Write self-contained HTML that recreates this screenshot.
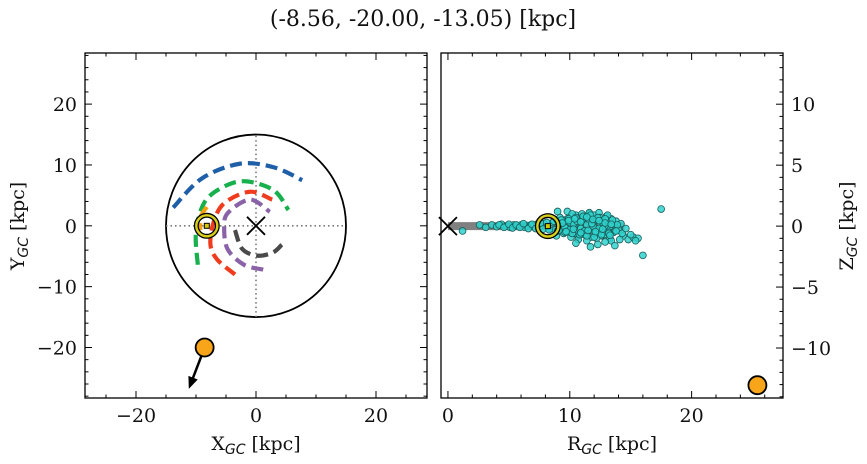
<!DOCTYPE html>
<html><head><meta charset="utf-8">
<style>
html,body{margin:0;padding:0;background:#fff;}
svg{display:block;font-family:"DejaVu Serif","Liberation Serif",serif;}
.t{font-size:19px;fill:#111;}
</style></head>
<body>
<svg id="fig" width="867" height="464" viewBox="0 0 867 464">
<text x="423" y="26" text-anchor="middle" style="font-size:22px" fill="#111">(-8.56, -20.00, -13.05) [kpc]</text>
<g id="L"></g>
<g id="R"></g>
<text x="256" y="450" text-anchor="middle" class="t">X<tspan font-family="DejaVu Sans" font-style="italic" font-size="14" dy="4">GC</tspan><tspan dy="-4"> [kpc]</tspan></text>
<text x="612" y="450" text-anchor="middle" class="t">R<tspan font-family="DejaVu Sans" font-style="italic" font-size="14" dy="4">GC</tspan><tspan dy="-4"> [kpc]</tspan></text>
<text transform="translate(24,226) rotate(-90)" text-anchor="middle" class="t">Y<tspan font-family="DejaVu Sans" font-style="italic" font-size="14" dy="4">GC</tspan><tspan dy="-4"> [kpc]</tspan></text>
<text transform="translate(853,226) rotate(-90)" text-anchor="middle" class="t">Z<tspan font-family="DejaVu Sans" font-style="italic" font-size="14" dy="4">GC</tspan><tspan dy="-4"> [kpc]</tspan></text>
</svg>
<script>
// ---- data ----
const orbitArcColors = ["#1f5fa8","#17b04d","#f03c1e","#8a62a8","#4a4a4a","#f5a00f"];
const orbitArcBlue = [[-13.8,3.0],[-9,7.8],[-2.7,10.2],[3,9.6],[7.7,7.5]];
const orbitArcGreen = [[-9.7,-6.4],[-10,-1],[-8.5,4],[-5,6.6],[-1.5,7.3],[3,5.8],[5.4,2.6]];
const orbitArcRed = [[-3.5,-8],[-6.5,-5.5],[-7.6,-3],[-7,0.8],[-5.2,3.8],[-1,5.6],[2.7,4.3]];
const orbitArcPurple = [[1.2,-7.2],[-2,-6.4],[-4.7,-3.9],[-5.3,-0.5],[-4.7,2.1],[-1,4.3],[2.3,2.3]];
const orbitArcGray = [[-3.5,-0.7],[-2.3,-3.8],[0.2,-4.9],[2.8,-4.4],[4.3,-3.1]];
const orbitArcOrange = [[-8.2,3.1],[-9.2,1.5],[-9.3,-0.7]];
const sunXY = [-8.2, 0];
const targetXY = [-8.56, -20.0];
const arrowEndXY = [-11.2, -26.8];
const targetRZ = [25.4, -13.05];
const sunRZ = [8.2, 0];
const bandR = [0, 14.5];
const starR = [1.2,2.6,3.1,3.6,4.0,4.4,4.8,5.1,5.4,5.7,6.0,6.3,6.5,6.8,7.0,7.3,7.5,7.7,7.9,8.4,8.6,8.8,9.0,9.1,9.3,9.4,9.6,9.7,9.8,9.9,10.0,10.1,10.2,10.3,10.4,10.5,10.6,10.7,10.8,10.9,11.0,11.1,11.2,11.3,11.4,11.5,11.6,11.7,11.8,11.9,12.0,12.1,12.2,12.3,12.4,12.5,12.6,12.7,12.8,12.9,13.0,13.1,13.2,13.3,13.4,13.5,13.6,13.8,14.0,14.2,9.2,9.5,9.8,10.1,10.4,10.7,11.0,11.3,11.6,11.9,12.2,12.5,12.8,13.1,13.4,9.6,10.3,10.9,11.5,12.1,12.7,13.3,13.9,10.0,10.6,11.2,11.8,12.4,13.0,13.6,14.4,14.8,15.2,15.6,16.0,17.5,10.5,11.4,12.3,13.2,9.0,8.9,10.2,11.7,12.9,13.7,14.1,
 4.2,4.6,5.0,5.3,5.6,5.9,6.2,6.6,6.9,7.2,7.6,7.8,8.1,8.3,8.7,9.0,9.3,9.6,9.9,10.2,10.5,10.8,11.1,11.4,11.7,12.0,12.3,12.6,12.9,13.2,13.5,13.8,9.4,9.9,10.4,10.9,11.4,11.9,12.4,12.9,13.4,9.1,9.7,10.3,10.9,11.5,12.1,12.7,13.3,14.3,14.6,15.0,15.4];
const starZ = [-0.4,0.1,-0.1,0.1,-0.05,0.15,0.0,-0.1,0.1,0.0,0.1,-0.1,0.05,0.1,-0.05,0.15,-0.1,0.05,0.2,-0.2,0.3,-0.3,0.4,0.2,-0.4,0.5,0.1,-0.2,0.6,-0.5,0.3,0.8,-0.3,0.5,-0.6,0.9,0.2,-0.8,0.7,-0.1,1.0,0.4,-0.7,0.8,0.1,-0.4,1.0,0.6,-0.9,0.3,0.9,-0.3,0.6,-0.6,1.1,0.2,-0.8,0.5,0.0,-0.5,0.8,-0.2,0.4,-1.0,0.6,0.1,-0.5,0.4,-0.3,0.2,0.7,-0.6,1.2,-0.9,0.3,-1.1,0.5,-0.4,1.1,0.0,-1.0,0.7,-0.7,0.9,-1.2,-0.1,0.2,-0.2,0.6,-0.6,0.3,-0.3,0.1,-0.3,0.4,-0.4,0.2,-0.2,0.5,-0.5,-0.8,-1.1,-0.9,-1.0,-2.4,1.4,-1.4,-1.2,-1.5,-0.5,1.2,-0.8,1.0,-1.7,-1.3,-1.6,-1.1,
 0.1,-0.1,0.15,-0.15,0.1,-0.1,0.2,-0.2,0.15,-0.2,0.25,-0.25,0.3,-0.3,0.4,-0.4,0.5,-0.5,0.6,-0.6,0.7,-0.7,0.8,-0.8,0.9,-0.9,0.7,-0.7,0.6,-0.6,0.5,-0.4,0.25,0.45,0.6,0.35,0.75,0.55,0.45,0.25,0.15,-0.35,-0.45,-0.25,-0.55,-0.35,-0.45,-0.25,-0.75,-0.6,-0.2,-0.7,-1.2];
// ---- axes ----
const NS="http://www.w3.org/2000/svg";
function mk(parent,tag,attrs){const e=document.createElementNS(NS,tag);for(const k in attrs)e.setAttribute(k,attrs[k]);parent.appendChild(e);return e;}
const L={x0:85,x1:427,y0:53,y1:398,xmin:-28.5,xmax:28.5,ymin:-28.3,ymax:28.4};
const R={x0:441,x1:783,y0:53,y1:398,xmin:-0.57,xmax:27.5,ymin:-14.1,ymax:14.2};
function sx(P,v){return P.x0+(v-P.xmin)/(P.xmax-P.xmin)*(P.x1-P.x0);}
function sy(P,v){return P.y1-(v-P.ymin)/(P.ymax-P.ymin)*(P.y1-P.y0);}
function ticks(g,P,xMaj,xMin,yMaj,yMin,ySides,yLabelSide){
  for(let v=Math.ceil(P.xmin/xMin)*xMin;v<=P.xmax;v+=xMin){
    const maj=Math.abs(v/xMaj-Math.round(v/xMaj))<1e-6, len=maj?7:3.5, x=sx(P,v);
    const t1=mk(g,'line',{x1:x,x2:x,y1:P.y1,y2:P.y1-len,stroke:'#000','stroke-width':1});
    
    const t2=mk(g,'line',{x1:x,x2:x,y1:P.y0,y2:P.y0+len,stroke:'#000','stroke-width':1});
    
    if(maj){const tx=mk(g,'text',{x:x,y:P.y1+24,'text-anchor':'middle',class:'t'});tx.textContent=(v<0?'\u2212':'')+Math.abs(Math.round(v));
      }
  }
  for(let v=Math.ceil(P.ymin/yMin)*yMin;v<=P.ymax;v+=yMin){
    const maj=Math.abs(v/yMaj-Math.round(v/yMaj))<1e-6, len=maj?7:3.5, y=sy(P,v);
    ySides.forEach(s=>{const x=s==='l'?P.x0:P.x1, d=s==='l'?len:-len;
      const t=mk(g,'line',{x1:x,x2:x+d,y1:y,y2:y,stroke:'#000','stroke-width':1});
      });
    if(maj){const lbl=(v<0?'\u2212':'')+Math.abs(Math.round(v));
      const tx=yLabelSide==='l'?mk(g,'text',{x:P.x0-8,y:y+7,'text-anchor':'end',class:'t'}):mk(g,'text',{x:P.x1+8,y:y+7,'text-anchor':'start',class:'t'});
      tx.textContent=lbl;}
  }
  const fr=mk(g,'rect',{x:P.x0,y:P.y0,width:P.x1-P.x0,height:P.y1-P.y0,fill:'none',stroke:'#000','stroke-width':1.3});
  
}
function smooth(P,pts){let p=pts.map(q=>[sx(P,q[0]),sy(P,q[1])]);let d='M'+p[0][0]+','+p[0][1];
  for(let i=0;i<p.length-1;i++){const a=p[Math.max(0,i-1)],b=p[i],c=p[i+1],e=p[Math.min(p.length-1,i+2)];
    d+=' C'+(b[0]+(c[0]-a[0])/6)+','+(b[1]+(c[1]-a[1])/6)+' '+(c[0]-(e[0]-b[0])/6)+','+(c[1]-(e[1]-b[1])/6)+' '+c[0]+','+c[1];}
  return d;}
// left panel
const gL=document.getElementById('L');
const c0=mk(gL,'ellipse',{cx:sx(L,0),cy:sy(L,0),rx:sx(L,15)-sx(L,0),ry:sy(L,0)-sy(L,15),fill:'none',stroke:'#000','stroke-width':1.8});

const h=mk(gL,'line',{x1:sx(L,-15),x2:sx(L,15),y1:sy(L,0),y2:sy(L,0),stroke:'#777','stroke-width':1.6,'stroke-dasharray':'1.5,3'});

const v=mk(gL,'line',{x1:sx(L,0),x2:sx(L,0),y1:sy(L,-15),y2:sy(L,15),stroke:'#777','stroke-width':1.6,'stroke-dasharray':'1.5,3'});

[orbitArcBlue,orbitArcGreen,orbitArcRed,orbitArcPurple,orbitArcGray,orbitArcOrange].forEach((a,i)=>{
  const p=mk(gL,'path',{d:smooth(L,a),fill:'none',stroke:orbitArcColors[i],'stroke-width':4.2,'stroke-dasharray':'12,6'});
  });
function cross(g,x,y){const s=9;const p=mk(g,'path',{d:`M${x-s},${y-s}L${x+s},${y+s}M${x-s},${y+s}L${x+s},${y-s}`,stroke:'#000','stroke-width':1.8});
  }
cross(gL,sx(L,0),sy(L,0));
function sun(g,x,y){const a=mk(g,'circle',{cx:x,cy:y,r:10.5,fill:'none',stroke:'#000','stroke-width':5});
  
  const b=mk(g,'circle',{cx:x,cy:y,r:10.5,fill:'none',stroke:'#d8cf1c','stroke-width':2.4});
  
  const c=mk(g,'rect',{x:x-2.5,y:y-2.5,width:5,height:5,fill:'#d4c800',stroke:'#000','stroke-width':1});
  }
sun(gL,sx(L,sunXY[0]),sy(L,sunXY[1]));
const tx0=sx(L,targetXY[0]),ty0=sy(L,targetXY[1]),tx1=sx(L,arrowEndXY[0]),ty1=sy(L,arrowEndXY[1]);
const ang=Math.atan2(ty1-ty0,tx1-tx0);
const ar=mk(gL,'line',{x1:tx0,y1:ty0,x2:tx1-9*Math.cos(ang),y2:ty1-9*Math.sin(ang),stroke:'#000','stroke-width':2.5});

const hd=mk(gL,'polygon',{points:`${tx1},${ty1} ${tx1-12*Math.cos(ang)+5*Math.sin(ang)},${ty1-12*Math.sin(ang)-5*Math.cos(ang)} ${tx1-12*Math.cos(ang)-5*Math.sin(ang)},${ty1-12*Math.sin(ang)+5*Math.cos(ang)}`,fill:'#000'});

const tg=mk(gL,'circle',{cx:tx0,cy:ty0,r:9,fill:'#f9a51a',stroke:'#000','stroke-width':1.8});

ticks(gL,L,20,5,10,2,['l','r'],'l');
// right panel
const gR=document.getElementById('R');
const bd=mk(gR,'rect',{x:sx(R,bandR[0]),y:sy(R,0)-4,width:sx(R,bandR[1])-sx(R,bandR[0]),height:8,fill:'#808080'});

starR.forEach((r,i)=>{const c=mk(gR,'circle',{cx:sx(R,r),cy:sy(R,starZ[i]),r:3.4,fill:'#2fd2cc',stroke:'#1a5e5c','stroke-width':0.8,'fill-opacity':0.85});
  });
cross(gR,sx(R,0),sy(R,0));
sun(gR,sx(R,sunRZ[0]),sy(R,sunRZ[1]));
const tg2=mk(gR,'circle',{cx:sx(R,targetRZ[0]),cy:sy(R,targetRZ[1]),r:9,fill:'#f9a51a',stroke:'#000','stroke-width':1.8});

ticks(gR,R,10,2,5,1,['r'],'r');
</script>
</body></html>
